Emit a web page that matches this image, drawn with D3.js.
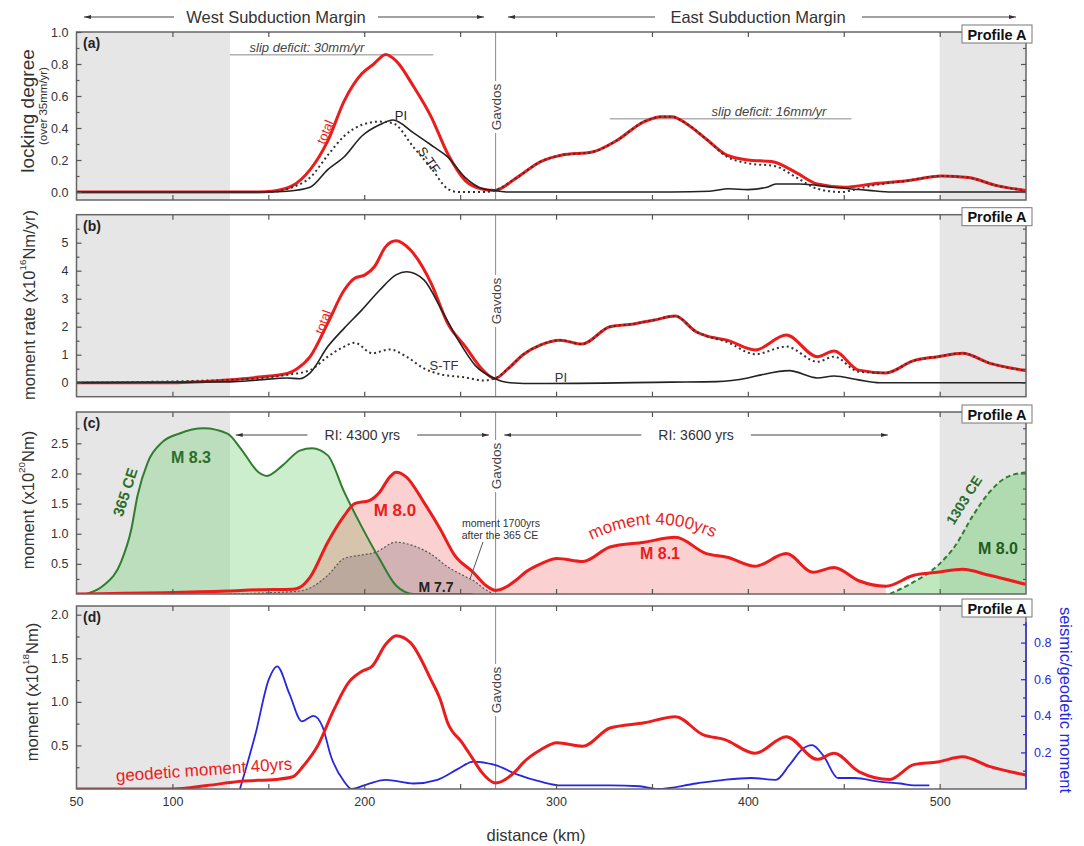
<!DOCTYPE html>
<html><head><meta charset="utf-8">
<script src="https://cdn.jsdelivr.net/npm/d3@7"></script>
<style>
body{margin:0;background:#fff}
svg{display:block}
text{font-family:Arial,"Liberation Sans",Helvetica,sans-serif}
</style>
</head><body>
<svg id="chart" width="1084" height="846"></svg>
<script>
// ---------------- DATA (distance km, value) ----------------
const xTicks = [100,150,200,250,300,350,400,450,500];
const xTickLabels = [50,100,200,300,400,500];
const gavdosKm = 268.5;
const shadeWest = [50,130];
const shadeEast = [500,545];

// (a) locking degree
const aTotal = [[50,0],[145,0],[152,0.005],[162.7,0.04],[171.8,0.14],[181,0.32],[189.6,0.57],[198.8,0.74],[205,0.80],[211.2,0.86],[216.6,0.82],[225.7,0.66],[234.9,0.47],[243.5,0.24],[252.7,0.07],[260.8,0.02],[267.8,0.01],[279.6,0.09],[292,0.19],[302.7,0.23],[318.9,0.25],[331.4,0.32],[346,0.44],[355,0.47],[360.5,0.47],[367.6,0.43],[378.4,0.33],[389.2,0.23],[400,0.20],[412.4,0.19],[425.4,0.12],[436.2,0.05],[450.3,0.03],[464.9,0.05],[482.7,0.07],[501,0.10],[515.1,0.09],[529.7,0.04],[545,0.01]];
const aPI = [[50,0],[150,0],[160,0.005],[171.8,0.03],[181,0.14],[189.6,0.22],[198.8,0.35],[208,0.42],[215,0.45],[225.7,0.37],[236.5,0.28],[243.5,0.22],[252.7,0.09],[261.9,0.02],[267.8,0.01],[275,0],[360,0],[380,0.005],[390,0.02],[400,0.015],[410,0.03],[414.6,0.05],[427,0.05],[444,0.03],[463,0.01],[475,0],[545,0]];
const aSTF = [[50,0],[150,0],[162.7,0.03],[171.8,0.09],[181,0.23],[189.6,0.35],[198.8,0.42],[208,0.44],[215,0.43],[225.7,0.28],[234.9,0.15],[243.5,0.02],[249,0],[263,0],[267.8,0.01],[279.6,0.09],[292,0.19],[302.7,0.23],[318.9,0.25],[331.4,0.32],[346,0.44],[355,0.47],[360.5,0.47],[367.6,0.43],[378.4,0.33],[389.2,0.22],[400,0.18],[414.6,0.16],[425.4,0.09],[436.2,0.02],[448.6,0.0],[454,0.01],[464.9,0.04],[482.7,0.07],[501,0.10],[515.1,0.09],[529.7,0.04],[545,0.01]];
const aSlipWest = {from:130, to:236, value:30/35, label:"slip deficit: 30mm/yr"};
const aSlipEast = {from:328, to:454, value:16/35, label:"slip deficit: 16mm/yr"};

// (b) moment rate
const bTotal = [[50,0],[100,0],[128.7,0.1],[145,0.2],[160,0.33],[165,0.5],[171.8,0.93],[181,2.13],[189.6,3.31],[195,3.73],[200.4,3.85],[205.3,4.14],[211.2,4.86],[216.6,5.07],[224.1,4.74],[234.9,3.55],[243.5,2.12],[252.7,1.29],[261.9,0.45],[268,0.15],[275,0.5],[282.8,1.0],[292,1.35],[302,1.52],[313.5,1.38],[328.1,2.0],[340.5,2.1],[351.4,2.24],[362.2,2.38],[373,1.82],[378.4,1.67],[389.2,1.52],[403.8,1.17],[420,1.7],[436.2,0.93],[444.9,1.13],[457.8,0.45],[471.9,0.35],[486.5,0.79],[498.9,0.93],[511.9,1.05],[525.9,0.70],[545,0.43]];
const bPI = [[50,0],[130,0.03],[144.9,0.1],[160,0.17],[166.4,0.14],[171.8,0.35],[181,1.29],[189.6,1.95],[198.8,2.6],[208,3.3],[216.6,3.85],[222,3.96],[231.1,3.67],[240.3,2.6],[249,1.52],[258.1,0.6],[268,0.15],[276,0],[290,-0.03],[360,0.02],[383.8,0.04],[400,0.17],[407,0.28],[421.6,0.43],[436.2,0.17],[444.9,0.24],[457.8,0.1],[468.6,0],[545,0]];
const bSTF = [[50,0],[128.7,0.1],[160,0.28],[171.8,0.45],[181,0.93],[189.6,1.29],[195,1.43],[204.2,1.05],[213.3,1.19],[222,0.93],[231.1,0.51],[240.3,0.29],[252.7,0.19],[261.9,0.08],[268,0.15],[275,0.5],[282.8,1.0],[292,1.35],[302,1.52],[313.5,1.38],[328.1,2.0],[340.5,2.1],[351.4,2.24],[362.2,2.38],[373,1.82],[378.4,1.67],[389.2,1.45],[403.8,1.02],[420,1.29],[436.2,0.75],[444.9,0.93],[457.8,0.39],[471.9,0.35],[486.5,0.79],[498.9,0.93],[511.9,1.05],[525.9,0.70],[545,0.43]];

// (c) moment
const cQuake365 = [[50,0],[55,0],[57,0.02],[64,0.14],[73.2,0.53],[78.6,1.08],[81.8,1.63],[87.2,2.19],[94.7,2.52],[103.4,2.66],[116.3,2.75],[128.7,2.66],[135.7,2.41],[144.9,2.02],[149.2,1.96],[157.3,2.13],[166.4,2.38],[172.9,2.42],[181,2.3],[189.6,1.69],[198.8,1.11],[208,0.58],[216.6,0.14],[225.7,0.0],[256.5,0]];
const cMoment4000 = [[50,0],[128.7,0.05],[144.9,0.07],[162.7,0.08],[166.4,0.11],[171.8,0.28],[181,0.86],[189.6,1.3],[195,1.5],[202.6,1.55],[208,1.69],[213.3,1.94],[216.6,2.02],[222,1.94],[231.1,1.52],[239.6,1.08],[247,0.65],[256.8,0.36],[263.5,0.14],[268.5,0.06],[279.6,0.24],[284,0.36],[292,0.5],[300.5,0.59],[314,0.54],[328.1,0.78],[346,0.86],[362.2,0.94],[378.4,0.67],[389.2,0.61],[403.8,0.46],[420,0.67],[434,0.36],[444.9,0.44],[457.8,0.22],[471.9,0.13],[486.5,0.31],[498.9,0.36],[511.9,0.41],[525.9,0.31],[545,0.16]];
const cMoment1700 = [[130,0],[150,0.02],[166.4,0.05],[171.8,0.1],[181,0.31],[189.6,0.59],[197.2,0.64],[205.8,0.69],[216.6,0.86],[225.7,0.8],[234.9,0.66],[243.5,0.45],[252.7,0.29],[258,0.2],[262,0.1],[267.5,0]];
const cQuake1303 = [[474,0],[486.5,0.2],[498.9,0.47],[508.1,0.8],[517.3,1.3],[525.9,1.69],[535.1,1.94],[545,2.02]];
const cArrows = [{from:133, to:265, label:"RI: 4300 yrs"},{from:273, to:473, label:"RI: 3600 yrs"}];

// (d) geodetic moment and ratio
const dGeodetic = [[50,0],[100,0],[118,0.04],[135.7,0.09],[154,0.11],[162.7,0.14],[168.1,0.26],[175.6,0.49],[184.2,0.91],[191.8,1.22],[198.8,1.35],[204.2,1.41],[211.2,1.66],[216.6,1.76],[224.1,1.68],[234.9,1.25],[239.6,1.03],[243.5,0.76],[251.1,0.53],[256.8,0.34],[261,0.2],[268.5,0.07],[279.6,0.22],[282.8,0.3],[292,0.45],[300.5,0.53],[314,0.49],[328.1,0.7],[346,0.76],[362.2,0.83],[376.8,0.62],[387.6,0.57],[403.8,0.41],[420,0.6],[436.2,0.34],[444.9,0.41],[457.8,0.2],[474,0.11],[486.5,0.28],[498.9,0.31],[511.9,0.37],[525.9,0.26],[545,0.16]];
const dRatio = [[135.2,0],[143.3,0.3],[150.3,0.6],[154.6,0.67],[161,0.52],[167.5,0.37],[173.5,0.4],[178.3,0.34],[182.6,0.18],[189.6,0.04],[193.4,0.0],[202.6,0.03],[211.2,0.05],[225.7,0.03],[238.1,0.05],[248.9,0.11],[256.8,0.15],[268.5,0.13],[279.6,0.08],[292,0.04],[302.7,0.02],[328.1,0.02],[343.7,0.015],[353,0.0],[373,0.03],[387.6,0.05],[401.6,0.06],[414.6,0.05],[421.6,0.13],[428.6,0.22],[433.5,0.24],[439.5,0.18],[447,0.06],[455.7,0.06],[468.6,0.04],[479.5,0.03],[486.5,0.02],[494.6,0.02]];

// y tick values per panel
const aMajor=[0,0.2,0.4,0.6,0.8,1.0], aMinor=[0.1,0.3,0.5,0.7,0.9];
const bMajor=[0,1,2,3,4,5], bMinor=[0.5,1.5,2.5,3.5,4.5,5.5];
const cMajor=[0.5,1.0,1.5,2.0,2.5], cMinor=[0.25,0.75,1.25,1.75,2.25,2.75];
const dMajor=[0.5,1.0,1.5,2.0], dMinor=[0.25,0.75,1.25,1.75];
const dRMajor=[0.2,0.4,0.6,0.8], dRMinor=[0.1,0.3,0.5,0.7,0.9];

// ---------------- DRAWING ----------------
const RED="#ec1c1c", BLK="#222", GRN="#2f7d2f", BLUE="#2727e0", AX="#555", TXT="#333";
const svg = d3.select("#chart");
const x = d3.scaleLinear().domain([50,545]).range([76.5,1026]);
const L = x(50), R = x(545);

const defs = svg.append("defs");
defs.append("marker").attr("id","arr").attr("viewBox","0 0 10 10").attr("refX",10).attr("refY",5)
  .attr("markerWidth",7).attr("markerHeight",7).attr("orient","auto-start-reverse")
  .append("path").attr("d","M0,2.2 L10,5 L0,7.8 Z").attr("fill","#333");

const layout = [
  {top:32, bottom:200, dom:[-0.05,1.0]},
  {top:214.7, bottom:396.7, dom:[-0.5,6]},
  {top:412, bottom:594, dom:[0,3.02]},
  {top:606, bottom:789, dom:[0,2.1]}
];
const ys = layout.map(p => d3.scaleLinear().domain(p.dom).range([p.bottom,p.top]));
const yR = d3.scaleLinear().domain([0,1.0]).range([789,606]);

const lineGen = (y) => d3.line().x(d=>x(d[0])).y(d=>y(d[1])).curve(d3.curveMonotoneX);
const areaGen = (y) => d3.area().x(d=>x(d[0])).y0(y(0)).y1(d=>y(d[1])).curve(d3.curveMonotoneX);

const gp = layout.map((p,i)=>{
  const g = svg.append("g");
  defs.append("clipPath").attr("id","clip"+i).append("rect")
    .attr("x",L).attr("y",p.top).attr("width",R-L).attr("height",p.bottom-p.top);
  [shadeWest,shadeEast].forEach(s=>{
    g.append("rect").attr("x",x(s[0])).attr("y",p.top).attr("width",x(s[1])-x(s[0]))
      .attr("height",p.bottom-p.top).attr("fill","#e6e6e6");
  });
  g.append("line").attr("x1",x(gavdosKm)).attr("x2",x(gavdosKm)).attr("y1",p.top).attr("y2",p.bottom)
    .attr("stroke","#888").attr("stroke-width",1);
  const content = g.append("g").attr("clip-path",`url(#clip${i})`);
  return {g, content, p, y: ys[i]};
});

function gavdosLabel(P, cy){
  const gx = x(gavdosKm);
  P.g.append("rect").attr("x",gx-7).attr("y",cy-26).attr("width",14).attr("height",52).attr("fill","#fff");
  P.g.append("text").attr("transform",`translate(${gx+1},${cy}) rotate(-90)`).attr("text-anchor","middle")
    .attr("dominant-baseline","central").attr("font-size",13.5).attr("fill","#444").text("Gavdos");
}
function drawPath(P, data, opts){
  return P.content.append("path").datum(data).attr("d", lineGen(opts.y||P.y)).attr("fill","none")
    .attr("stroke",opts.color).attr("stroke-width",opts.w||1.5)
    .attr("stroke-dasharray",opts.dash||null);
}
function drawArea(P, data, fill){
  P.content.append("path").datum(data).attr("d", areaGen(P.y)).attr("fill",fill).attr("stroke","none");
}

// ----- Panel (a)
const A = gp[0];
[aSlipWest,aSlipEast].forEach(s=>{
  A.content.append("line").attr("x1",x(s.from)).attr("x2",x(s.to)).attr("y1",A.y(s.value)).attr("y2",A.y(s.value))
    .attr("stroke","#888").attr("stroke-width",1);
});
drawPath(A,aTotal,{color:RED,w:3});
drawPath(A,aPI,{color:BLK,w:1.6});
drawPath(A,aSTF,{color:"#333",w:2,dash:"2,3"});

// ----- Panel (b)
const B = gp[1];
drawPath(B,bTotal,{color:RED,w:3});
drawPath(B,bPI,{color:BLK,w:1.6});
drawPath(B,bSTF,{color:"#333",w:2,dash:"2,3"});

// ----- Panel (c)
const C = gp[2];
drawArea(C,cQuake365,"rgba(110,205,110,0.35)");
drawArea(C,cMoment4000.filter(d=>d[0]<=474),"rgba(240,110,110,0.32)");
drawArea(C,cQuake1303,"rgba(110,205,110,0.45)");
drawArea(C,cMoment1700,"rgba(110,100,110,0.28)");
drawPath(C,cQuake365,{color:GRN,w:2});
drawPath(C,cMoment1700,{color:"#555",w:1.2,dash:"2,2"});
drawPath(C,cQuake1303,{color:GRN,w:2,dash:"5,3"});
drawPath(C,cMoment4000,{color:RED,w:3});

// ----- Panel (d)
const D = gp[3];
drawPath(D,dRatio,{color:BLUE,w:1.8,y:yR});
drawPath(D,dGeodetic,{color:RED,w:3});

// ----- Frames, ticks
gp.forEach((P,i)=>{
  const {g,p} = P;
  g.append("rect").attr("x",L).attr("y",p.top).attr("width",R-L).attr("height",p.bottom-p.top)
    .attr("fill","none").attr("stroke","#666").attr("stroke-width",1.5);
  g.append("g").attr("transform",`translate(0,${p.bottom})`)
    .call(d3.axisBottom(x).tickValues(xTicks).tickSize(-5).tickSizeOuter(0).tickPadding(8)
      .tickFormat(i===3 ? (d=>xTickLabels.includes(d)?d:"") : ""));
  g.append("g").attr("transform",`translate(0,${p.top})`)
    .call(d3.axisTop(x).tickValues(xTicks).tickSize(-5).tickSizeOuter(0).tickFormat(""));
});
gp[3].g.append("text").attr("x",L).attr("y",806).attr("text-anchor","middle").attr("font-size",12.5).attr("fill",TXT).text(xTickLabels[0]);

const yDefs = [
  {maj:aMajor,min:aMinor,fmt:d3.format(".1f")},
  {maj:bMajor,min:bMinor,fmt:d3.format("d")},
  {maj:cMajor,min:cMinor,fmt:d3.format(".1f")},
  {maj:dMajor,min:dMinor,fmt:d3.format(".1f")}
];
gp.forEach((P,i)=>{
  const {g,y} = P, yd = yDefs[i];
  g.append("g").attr("transform",`translate(${L},0)`)
    .call(d3.axisLeft(y).tickValues(yd.maj).tickSize(-5).tickSizeOuter(0).tickPadding(8).tickFormat(yd.fmt));
  g.append("g").attr("transform",`translate(${L},0)`)
    .call(d3.axisLeft(y).tickValues(yd.min).tickSize(-3).tickSizeOuter(0).tickFormat(""));
  if(i<3){
    g.append("g").attr("transform",`translate(${R},0)`)
      .call(d3.axisRight(y).tickValues(yd.maj).tickSize(-5).tickSizeOuter(0).tickFormat(""));
    g.append("g").attr("transform",`translate(${R},0)`)
      .call(d3.axisRight(y).tickValues(yd.min).tickSize(-3).tickSizeOuter(0).tickFormat(""));
  }
});
const dR = gp[3].g.append("g").attr("transform",`translate(${R},0)`);
dR.append("g").call(d3.axisRight(yR).tickValues(dRMajor).tickSize(-5).tickSizeOuter(0).tickPadding(8).tickFormat(d3.format(".1f")));
dR.append("g").call(d3.axisRight(yR).tickValues(dRMinor).tickSize(-3).tickSizeOuter(0).tickFormat(""));
dR.append("line").attr("x1",0).attr("x2",0).attr("y1",622).attr("y2",789).attr("stroke",BLUE).attr("stroke-width",1.3);

svg.selectAll(".domain").remove();
svg.selectAll(".tick line").attr("stroke",AX).attr("stroke-width",1.2);
svg.selectAll(".tick text").attr("font-size",12.5).attr("fill",TXT).attr("font-family",'Arial,"Liberation Sans",sans-serif');
dR.selectAll(".tick line").attr("stroke",BLUE);
dR.selectAll(".tick text").attr("fill",BLUE);

gavdosLabel(gp[0],107); gavdosLabel(gp[1],301); gavdosLabel(gp[2],466); gavdosLabel(gp[3],690);

const letters=["(a)","(b)","(c)","(d)"];
gp.forEach((P,i)=>{
  const t=P.p.top;
  P.g.append("rect").attr("x",962).attr("y",t-7).attr("width",70).attr("height",18).attr("fill","#fff").attr("stroke","#777").attr("stroke-width",1);
  P.g.append("text").attr("x",997).attr("y",t+7.5).attr("text-anchor","middle").attr("font-size",14.5).attr("font-weight","bold").attr("fill","#111").text("Profile A");
  P.g.append("text").attr("x",83).attr("y",t+16).attr("font-size",14).attr("font-weight","bold").attr("fill","#222").text(letters[i]);
});

function txt(g, s, cx, cy, o){
  o=o||{};
  const t=g.append("text").attr("transform",`translate(${cx},${cy}) rotate(${o.rot||0})`)
    .attr("text-anchor",o.anchor||"middle").attr("dominant-baseline","central")
    .attr("font-size",o.size||13).attr("fill",o.color||TXT);
  if(o.bold) t.attr("font-weight","bold");
  if(o.italic) t.attr("font-style","italic");
  t.text(s); return t;
}
function supLabel(g, cx, cy, pre, sup, post, size, color, rot){
  const t=g.append("text").attr("transform",`translate(${cx},${cy}) rotate(${rot})`).attr("text-anchor","middle")
    .attr("dominant-baseline","central").attr("font-size",size).attr("fill",color);
  t.append("tspan").text(pre);
  t.append("tspan").attr("dy",-size*0.42).attr("font-size",size*0.6).text(sup);
  t.append("tspan").attr("dy",size*0.42).text(post);
}

// Header
const hy=17;
txt(svg,"West Subduction Margin",276,hy,{size:16.5,color:"#333"});
txt(svg,"East Subduction Margin",758,hy,{size:16.5,color:"#333"});
function arrowLine(g,x1,x2,yy,dir){
  const l=g.append("line").attr("x1",x1).attr("x2",x2).attr("y1",yy).attr("y2",yy).attr("stroke","#444").attr("stroke-width",1);
  if(dir==="start") l.attr("marker-start","url(#arr)"); else l.attr("marker-end","url(#arr)");
}
arrowLine(svg,84,174,hy,"start"); arrowLine(svg,378,484,hy,"end");
arrowLine(svg,508,655,hy,"start"); arrowLine(svg,862,1016,hy,"end");

// y labels
txt(svg,"locking degree",27,111,{size:19,rot:-90,color:"#333"});
txt(svg,"(over 35mm/yr)",42.5,106,{size:11.5,rot:-90,color:"#333"});
supLabel(svg,29,305,"moment rate (x10","16","Nm/yr)",16.5,"#333",-90);
supLabel(svg,28,500,"moment (x10","20","Nm)",16.5,"#333",-90);
supLabel(svg,32,692,"moment (x10","18","Nm)",16.5,"#333",-90);
txt(svg,"seismic/geodetic moment",1066,700,{size:16.5,rot:90,color:BLUE});
txt(svg,"distance (km)",536,835,{size:16.5,color:"#333"});

// panel (a) annotations
txt(A.g,aSlipWest.label,307,47,{size:13,italic:true,color:"#444"});
txt(A.g,aSlipEast.label,769,111,{size:13,italic:true,color:"#444"});
txt(A.g,"total",325,132,{size:13,rot:-68,color:RED});
txt(A.g,"PI",401,115,{size:13,color:"#222"});
txt(A.g,"S-TF",429,160,{size:13,rot:55,color:"#222"});

// panel (b) annotations
txt(B.g,"total",323,322,{size:13,rot:-70,color:RED});
txt(B.g,"S-TF",444,365,{size:13,color:"#333"});
txt(B.g,"PI",561,377,{size:13,color:"#333"});

// panel (c) annotations
cArrows.forEach(a=>{
  const x1=x(a.from), x2=x(a.to), cx=(x1+x2)/2, yy=435, hw=a.label.length*3.9+8;
  arrowLine(C.g,x1,cx-hw,yy,"start"); arrowLine(C.g,cx+hw,x2,yy,"end");
  txt(C.g,a.label,cx,yy,{size:14,color:"#333"});
});
txt(C.g,"M 8.3",191,457,{size:16,bold:true,color:"#2a6e2a"});
txt(C.g,"365 CE",125,492,{size:15,bold:true,rot:-72,color:"#2a6e2a"});
txt(C.g,"M 8.0",395,510,{size:17,bold:true,color:RED});
txt(C.g,"moment 1700yrs",501,523,{size:10.5,color:"#333"});
txt(C.g,"after the 365 CE",500,535,{size:10.5,color:"#333"});
C.g.append("line").attr("x1",483).attr("y1",542).attr("x2",470).attr("y2",579).attr("stroke","#555").attr("stroke-width",1);
txt(C.g,"M 7.7",436,587,{size:14,bold:true,color:"#222"});
defs.append("path").attr("id","arcM4000").attr("d","M583,544 Q655,506 722,542");
C.g.append("text").attr("font-size",17).attr("fill",RED)
  .append("textPath").attr("href","#arcM4000").attr("startOffset","50%").attr("text-anchor","middle")
  .text("moment 4000yrs");
txt(C.g,"M 8.1",660,553,{size:16,bold:true,color:RED});
txt(C.g,"1303 CE",964,500,{size:14,bold:true,rot:-58,color:"#2a6e2a"});
txt(C.g,"M 8.0",998,548,{size:16,bold:true,color:"#1f5e1f"});

// panel (d) annotations
txt(D.g,"geodetic moment 40yrs",204,770,{size:17,rot:-4,color:RED});
</script>
</body></html>
